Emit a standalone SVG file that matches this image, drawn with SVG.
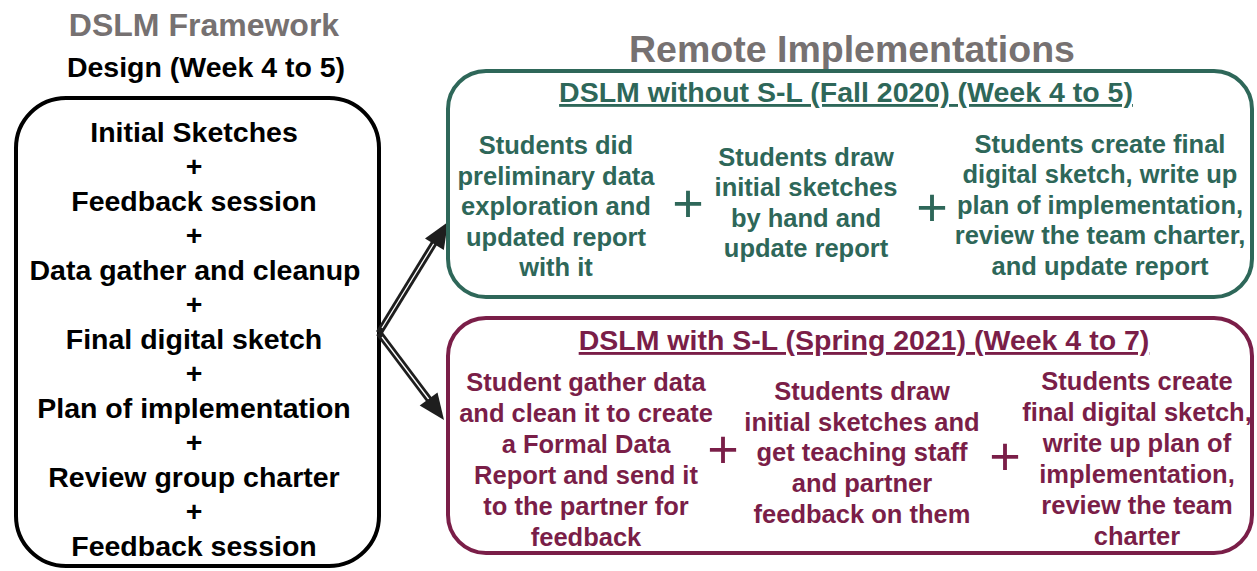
<svg xmlns="http://www.w3.org/2000/svg" width="1257" height="571" viewBox="0 0 1257 571">
  <style>
    text { font-family: "Liberation Sans", Arial, sans-serif; font-weight: bold; text-anchor: middle; }
    .head { fill: #767171; }
    .blk { fill: #000000; font-size: 28.5px; }
    .grn { fill: #2E6759; font-size: 25.5px; }
    .mar { fill: #7A1E48; font-size: 25.5px; }
    .ttl { font-size: 28.5px; text-decoration: underline; }
    .plus { font-weight: normal; font-size: 54px; }
    .shaft { stroke: #1E1E1E; stroke-width: 7; fill: none; stroke-linecap: butt; }
    .stripe { stroke: #ffffff; stroke-width: 1.3; fill: none; }
    .tip { fill: #1E1E1E; }
  </style>

  <rect width="1257" height="571" fill="#ffffff"/>

  <!-- headings -->
  <text class="head" x="204" y="36" font-size="32">DSLM Framework</text>
  <text class="blk" x="206" y="77">Design (Week 4 to 5)</text>
  <text class="head" x="852" y="62" font-size="37.5">Remote Implementations</text>

  <!-- framework steps -->
  <g id="framework">
    <rect x="16" y="98" width="363" height="468" rx="50" fill="#ffffff" stroke="#000000" stroke-width="4"/>
    <text class="blk" x="194" y="142">Initial Sketches</text>
    <text class="blk" x="194" y="176">+</text>
    <text class="blk" x="194" y="211">Feedback session</text>
    <text class="blk" x="194" y="245">+</text>
    <text class="blk" x="195" y="280">Data gather and cleanup</text>
    <text class="blk" x="194" y="314">+</text>
    <text class="blk" x="194" y="349">Final digital sketch</text>
    <text class="blk" x="194" y="383">+</text>
    <text class="blk" x="194" y="418">Plan of implementation</text>
    <text class="blk" x="194" y="452">+</text>
    <text class="blk" x="194" y="487">Review group charter</text>
    <text class="blk" x="194" y="521">+</text>
    <text class="blk" x="194" y="556">Feedback session</text>
  </g>

  <!-- connectors: striped shafts with solid heads -->
  <g id="connectors">
    <path class="shaft" d="M379,333 L436,240"/>
    <path class="stripe" d="M382,328 L434.5,242.5"/>
    <polygon class="tip" points="448,222 443.8,250 425,238.5"/>

    <path class="shaft" d="M379,333 L430.5,401.5"/>
    <path class="stripe" d="M382,337 L429,399.5"/>
    <polygon class="tip" points="444,420 419.7,405.6 437.5,392.6"/>
  </g>

  <!-- remote implementation without service learning -->
  <g id="fall2020">
    <rect x="448" y="71" width="804" height="226" rx="38" fill="#ffffff" stroke="#2E6759" stroke-width="4"/>
    <text class="grn ttl" x="846" y="102">DSLM without S-L (Fall 2020) (Week 4 to 5)</text>
    <text class="grn" x="556" y="154">Students did</text>
    <text class="grn" x="556" y="185">preliminary data</text>
    <text class="grn" x="556" y="215">exploration and</text>
    <text class="grn" x="556" y="246">updated report</text>
    <text class="grn" x="556" y="276">with it</text>
    <text class="grn plus" x="688" y="222">+</text>
    <text class="grn" x="806" y="166">Students draw</text>
    <text class="grn" x="806" y="196">initial sketches</text>
    <text class="grn" x="806" y="227">by hand and</text>
    <text class="grn" x="806" y="257">update report</text>
    <text class="grn plus" x="932" y="226">+</text>
    <text class="grn" x="1100" y="153">Students create final</text>
    <text class="grn" x="1100" y="183">digital sketch, write up</text>
    <text class="grn" x="1100" y="214">plan of implementation,</text>
    <text class="grn" x="1100" y="244">review the team charter,</text>
    <text class="grn" x="1100" y="275">and update report</text>
  </g>

  <!-- remote implementation with service learning -->
  <g id="spring2021">
    <rect x="448" y="318" width="804" height="235" rx="38" fill="#ffffff" stroke="#7A1E48" stroke-width="4"/>
    <text class="mar ttl" x="864" y="350">DSLM with S-L (Spring 2021) (Week 4 to 7)</text>
    <text class="mar" x="586" y="391">Student gather data</text>
    <text class="mar" x="586" y="422">and clean it to create</text>
    <text class="mar" x="586" y="453">a Formal Data</text>
    <text class="mar" x="586" y="484">Report and send it</text>
    <text class="mar" x="586" y="515">to the partner for</text>
    <text class="mar" x="586" y="546">feedback</text>
    <text class="mar plus" x="723" y="468">+</text>
    <text class="mar" x="862" y="400">Students draw</text>
    <text class="mar" x="862" y="431">initial sketches and</text>
    <text class="mar" x="862" y="461">get teaching staff</text>
    <text class="mar" x="862" y="492">and partner</text>
    <text class="mar" x="862" y="523">feedback on them</text>
    <text class="mar plus" x="1005" y="475">+</text>
    <text class="mar" x="1137" y="390">Students create</text>
    <text class="mar" x="1137" y="421">final digital sketch,</text>
    <text class="mar" x="1137" y="452">write up plan of</text>
    <text class="mar" x="1137" y="483">implementation,</text>
    <text class="mar" x="1137" y="514">review the team</text>
    <text class="mar" x="1137" y="545">charter</text>
  </g>
</svg>
